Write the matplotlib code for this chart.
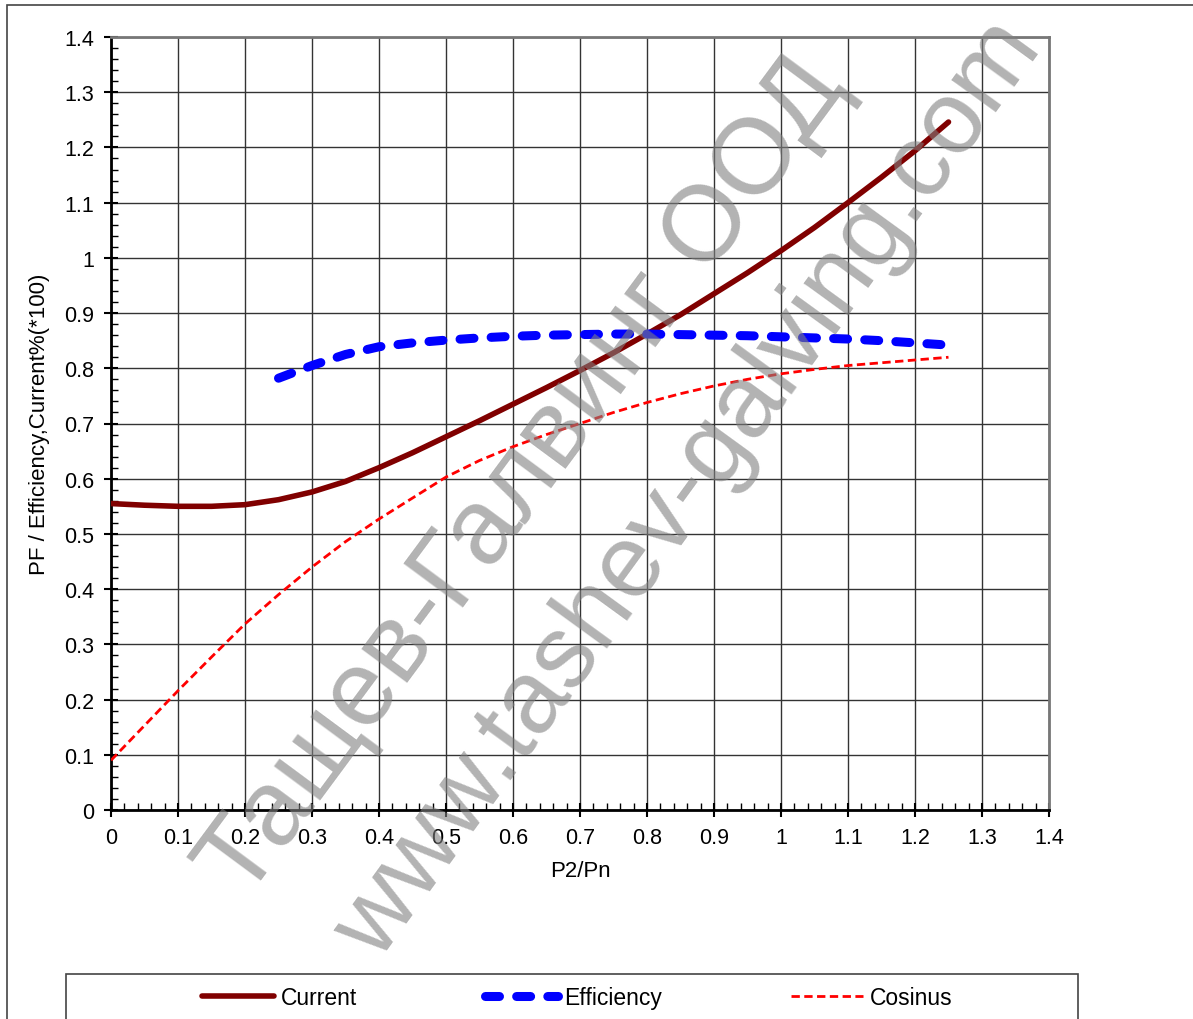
import numpy as np
import matplotlib
matplotlib.use('Agg')
import matplotlib.pyplot as plt
from matplotlib.patches import Rectangle
from matplotlib.ticker import MultipleLocator

plt.rcParams['font.family'] = ['Liberation Sans', 'DejaVu Sans']

# Values
current_x = [0.0, 0.05, 0.1, 0.15, 0.2, 0.25, 0.3, 0.35, 0.4, 0.45, 0.5, 0.55, 0.6,
             0.65, 0.7, 0.75, 0.8, 0.85, 0.9, 0.95, 1.0, 1.05, 1.1, 1.15, 1.2, 1.25]
current_y = [0.555, 0.552, 0.550, 0.550, 0.553, 0.562, 0.576, 0.595, 0.620, 0.647,
             0.676, 0.705, 0.735, 0.765, 0.796, 0.828, 0.862, 0.897, 0.935, 0.973,
             1.013, 1.055, 1.100, 1.146, 1.194, 1.246]

eff_x = [0.25, 0.3, 0.35, 0.4, 0.45, 0.5, 0.55, 0.6, 0.65, 0.7, 0.75, 0.8, 0.85,
         0.9, 0.95, 1.0, 1.05, 1.1, 1.15, 1.2, 1.25]
eff_y = [0.782, 0.805, 0.825, 0.839, 0.846, 0.851, 0.855, 0.858, 0.860, 0.861,
         0.862, 0.862, 0.861, 0.860, 0.859, 0.857, 0.855, 0.853, 0.850, 0.846, 0.842]

cos_x = [0.0, 0.05, 0.1, 0.15, 0.2, 0.25, 0.3, 0.35, 0.4, 0.45, 0.5, 0.55, 0.6,
         0.65, 0.7, 0.75, 0.8, 0.85, 0.9, 0.95, 1.0, 1.05, 1.1, 1.15, 1.2, 1.25]
cos_y = [0.090, 0.153, 0.216, 0.277, 0.337, 0.390, 0.440, 0.486, 0.527, 0.565,
         0.603, 0.633, 0.658, 0.680, 0.700, 0.720, 0.738, 0.754, 0.768, 0.780,
         0.790, 0.798, 0.805, 0.810, 0.815, 0.820]

ticks = np.round(np.arange(0, 1.41, 0.1), 1)
tick_labels = ['0' if t == 0 else ('1' if t == 1 else f'{t:g}') for t in ticks]

fig = plt.figure(figsize=(11.93, 10.20), dpi=100)
ax = fig.add_axes([111/1193, 209/1020, 938/1193, 773/1020])

l1, = ax.plot(current_x, current_y, color='#800000', lw=4, solid_capstyle='round',
              zorder=4)
l2, = ax.plot(eff_x, eff_y, color='#0000ff', lw=6.5, dashes=(1.55, 1.9),
              dash_capstyle='round', zorder=4)
l3, = ax.plot(cos_x, cos_y, color='#ff0000', lw=2, dashes=(3, 1.6), zorder=4)

ax.set_xlim(0, 1.4)
ax.set_ylim(0, 1.4)
ax.set_xticks(ticks)
ax.set_xticklabels(tick_labels)
ax.set_yticks(ticks)
ax.set_yticklabels(tick_labels)
ax.xaxis.set_minor_locator(MultipleLocator(0.02))
ax.yaxis.set_minor_locator(MultipleLocator(0.02))
ax.tick_params(which='major', direction='inout', length=10, width=1.5,
               labelsize=15.5, colors='black', pad=7)
ax.tick_params(which='minor', direction='in', length=5, width=1)
ax.grid(True, which='major', color='#333333', lw=1)

for s in ['top', 'right']:
    ax.spines[s].set_color('#777777')
    ax.spines[s].set_linewidth(2)
for s in ['left', 'bottom']:
    ax.spines[s].set_color('black')
    ax.spines[s].set_linewidth(2)

ax.set_xlabel('P2/Pn', fontsize=16, labelpad=9)
ax.set_ylabel('PF / Efficiency,Current%(*100)', fontsize=16, labelpad=10)

# outer chart border
fig.patches.append(Rectangle((7/1193, -0.1), 1.2, 1014/1020 + 0.1, transform=fig.transFigure,
                             fill=False, ec='#444444', lw=1.2))
# legend box
fig.patches.append(Rectangle((66/1193, -0.1), 1012/1193, 45/1020 + 0.1,
                             transform=fig.transFigure, fill=False, ec='#444444', lw=1.2))
fig.legend([l1, l2, l3], ['Current', 'Efficiency', 'Cosinus'], ncol=3, frameon=False,
           loc='center', bbox_to_anchor=(577/1193, 21/1020), fontsize=16.5,
           handlelength=3.15, handletextpad=0.3, columnspacing=5.6)

# watermark
fig.text(524/1193, 1 - 478/1020, 'Тащев-Галвинг ООД', fontsize=77, color='gray', alpha=0.6,
         rotation=53.5, ha='center', va='center', rotation_mode='anchor', zorder=10)
fig.text(689/1193, 1 - 490/1020, 'www.tashev-galving.com', fontsize=74, color='gray', alpha=0.6,
         rotation=54, ha='center', va='center', rotation_mode='anchor', zorder=10)

fig.savefig('out.png', dpi=100)
